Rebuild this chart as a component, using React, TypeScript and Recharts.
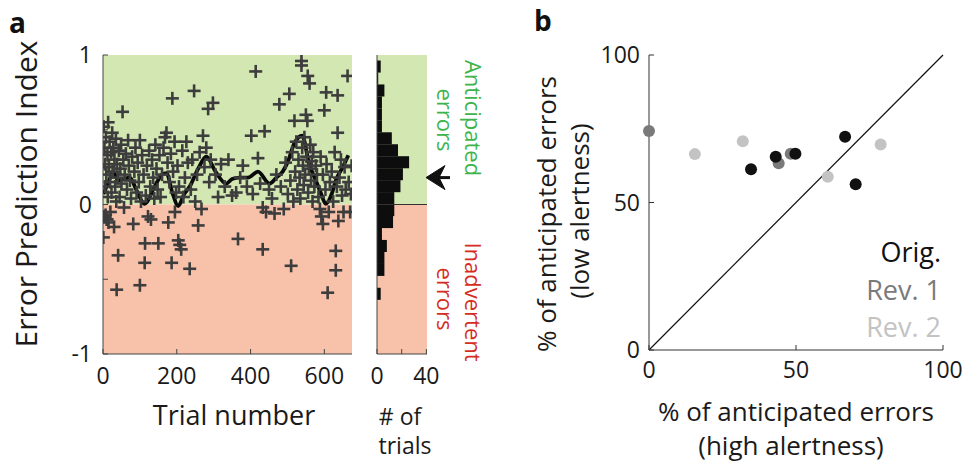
import React from 'react';
import {
  ComposedChart,
  ScatterChart,
  Scatter,
  Line,
  Bar,
  XAxis,
  YAxis,
  ReferenceArea,
  ReferenceLine,
  ReferenceDot,
} from 'recharts';

const FONT = '"Open Sans", "DejaVu Sans", sans-serif';
const GREEN_BG = '#d3e7b3';
const RED_BG = '#f8c2aa';
const GREEN_TXT = '#3cb44b';
const RED_TXT = '#d52d22';
const AXIS = '#444';

// Panel a: error prediction index of each trial, [trial, index]
const trialPoints: [number, number][] = [
  [1, -0.22], [2, 0.52], [3, -0.08], [4, 0.38], [5, 0.27], [6, 0.12], [7, -0.07], [8, 0.45], [9, 0.2], [10, -0.1],
  [11, -0.1], [12, 0.33], [13, 0.05], [14, 0.55], [15, -0.12], [16, 0.25], [18, 0.42], [19, 0.15], [20, -0.05],
  [22, 0.35], [23, 0.08], [25, 0.48], [26, 0.22], [28, 0.38], [30, -0.15], [31, 0.3], [33, 0.12], [35, 0.44],
  [36, 0.02], [37, -0.57], [38, 0.27], [40, 0.18], [41, -0.34], [43, 0.36], [45, 0.05], [47, 0.24], [49, 0.4],
  [50, 0.14], [53, 0.62], [55, 0.3], [57, -0.02], [59, 0.2],
  [62, 0.34], [65, 0.1], [68, 0.43], [70, 0.26], [73, 0.16], [76, 0.04], [79, 0.32], [82, -0.13], [85, 0.22],
  [88, 0.38], [91, 0.08], [94, 0.28], [97, 0.15], [100, 0.43], [100, -0.54], [103, 0.02], [106, 0.33], [110, 0.2],
  [113, -0.39], [114, -0.26], [116, 0.06], [119, 0.26], [122, -0.08], [125, 0.36], [128, 0.12], [130, -0.1],
  [133, 0.3], [136, 0.18], [139, 0.04],
  [142, 0.4], [145, 0.24], [148, 0.1], [150, -0.26], [153, 0.33], [156, 0.05], [160, 0.2], [164, 0.38], [168, 0.45],
  [172, 0.48], [175, 0.28], [177, -0.12], [180, 0.15], [184, 0.34], [186, -0.39], [188, 0.71], [190, 0.22],
  [194, 0.42], [195, -0.05], [198, 0.08], [202, 0.26], [204, -0.24], [206, 0.12], [208, -0.27], [212, -0.3],
  [215, 0.36], [218, 0.05], [222, 0.18], [226, 0.42], [230, 0.28], [235, -0.43], [238, 0.1], [242, 0.3],
  [247, 0.76], [250, 0.02], [255, 0.2], [258, -0.14], [262, 0.35], [267, -0.03], [271, 0.46], [275, 0.25],
  [280, 0.38], [285, 0.64], [288, 0.15], [292, 0.3], [298, 0.68],
  [305, 0.2], [312, 0.05], [320, 0.27], [330, 0.12], [340, 0.3], [350, 0.06], [361, 0.08], [366, -0.23],
  [372, 0.18], [379, 0.26], [390, 0.12], [402, 0.46], [406, 0.07], [414, 0.89], [420, 0.31], [426, 0.14],
  [433, -0.02], [433, -0.3], [438, 0.49], [442, -0.05], [450, 0.1], [458, 0.04], [465, -0.06], [470, 0.2],
  [478, 0.67], [482, 0.12], [490, -0.03], [495, 0.28], [501, 0.07], [505, 0.74], [508, 0.16], [510, -0.41],
  [513, 0.35], [516, 0.02], [519, 0.56], [521, 0.22], [524, 0.42], [527, 0.1], [530, 0.3], [533, 0.18],
  [535, 0.04], [538, 0.96], [538, 0.93], [540, 0.38], [542, 0.26], [544, 0.13], [546, 0.45], [548, 0.2],
  [550, 0.6], [552, 0.32], [554, 0.56], [555, 0.86], [556, 0.08], [558, 0.24], [560, 0.81], [562, 0.4],
  [564, 0.16], [566, 0.29], [568, 0.02], [570, 0.35], [573, 0.12], [577, 0.26], [580, 0.2], [584, 0.05],
  [588, -0.03], [590, 0.32], [592, -0.08], [596, 0.2], [596, -0.13], [600, 0.63], [603, 0.1], [605, 0.75],
  [606, 0.27], [609, -0.59], [612, -0.05], [615, 0.15],
  [620, 0.22], [624, 0.02], [628, 0.35], [631, -0.31], [631, -0.44], [634, 0.12], [636, 0.73], [636, 0.48],
  [638, -0.11], [641, 0.18], [645, 0.3], [648, 0.06], [652, -0.05], [655, 0.25], [658, 0.1], [663, 0.86],
  [666, 0.15], [670, -0.05], [672, 0.07], [674, 0.26],
];

// Panel a: running average of the index, [trial, index]
const smoothTrend: [number, number][] = [
  [1, 0.07], [15, 0.15], [28, 0.22], [41, 0.16], [55, 0.17], [73, 0.18], [90, 0.1], [113, 0.005], [140, 0.12],
  [160, 0.2], [172, 0.21], [188, 0.08], [204, -0.01], [220, 0.07], [235, 0.12], [258, 0.24], [280, 0.32],
  [305, 0.22], [334, 0.14], [350, 0.17], [370, 0.18], [393, 0.18], [420, 0.22], [451, 0.14], [470, 0.18],
  [487, 0.22], [500, 0.28], [519, 0.41], [540, 0.46], [559, 0.27], [577, 0.16], [590, 0.08], [604, 0.005],
  [620, 0.07], [631, 0.16], [650, 0.25], [665, 0.33],
];

// Panel a, side histogram: bin centres (width 0.08) and number of trials
const histCentres = [0.92, 0.84, 0.76, 0.68, 0.6, 0.52, 0.44, 0.36, 0.28, 0.2, 0.12, 0.04,
  -0.04, -0.12, -0.2, -0.28, -0.36, -0.44, -0.52, -0.6];
const histCounts = [3, 1, 6, 4, 4, 4, 12, 17, 26, 21, 19, 14, 14, 13, 4, 8, 6, 6, 0, 3];
const histBinWidth = 0.08;
const meanIndex = 0.18;

// Panel b: % anticipated errors, high alertness (x) vs low alertness (y)
const origX = [34.7, 43.1, 49.8, 66.7, 70.3];
const origY = [61.3, 65.5, 66.5, 72.3, 56.2];
const rev1X = [0, 44.1, 48.2];
const rev1Y = [74.2, 63.3, 66.5];
const rev2X = [15.6, 31.9, 60.8, 78.8];
const rev2Y = [66.4, 70.8, 58.7, 69.7];

const legendItems = [
  { label: 'Orig.', color: '#111111' },
  { label: 'Rev. 1', color: '#7a7a7a' },
  { label: 'Rev. 2', color: '#c3c3c3' },
];

const trialTicks = [0, 200, 400, 600];
const indexTicks = [-1, -0.5, 0, 0.5, 1];
const countTicks = [0, 20, 40];
const pctTicks = [0, 50, 100];

const pointData = trialPoints.map(([t, v]) => ({ t, v }));
const trendData = smoothTrend.map(([t, v]) => ({ t, v }));
const histData = histCentres.map((c, i) => ({ c, n: histCounts[i] }));
const toXY = (xs: number[], ys: number[]) => xs.map((x, i) => ({ x, y: ys[i] }));

const tickStyle = { fill: '#1a1a1a', fontSize: 23, fontFamily: FONT };

const PlusMark = (props: any) => {
  const { cx, cy } = props;
  if (cx == null || cy == null) return null;
  const r = 6.5;
  return (
    <g stroke="#3d3d3d" strokeWidth={2.6}>
      <line x1={cx - r} y1={cy} x2={cx + r} y2={cy} />
      <line x1={cx} y1={cy - r} x2={cx} y2={cy + r} />
    </g>
  );
};

// Histogram bin: grown by a hair top and bottom so neighbouring bins join
const HistBin = (props: any) => {
  const { x, y, width, height } = props;
  if (x == null || y == null || !width || width <= 0) return null;
  const pad = 0.45;
  return <rect x={x} y={y - pad} width={width} height={height + 2 * pad} fill="#0d0d0d" />;
};

const dotShape = (color: string) => (props: any) => {
  const { cx, cy } = props;
  if (cx == null || cy == null) return null;
  return <circle cx={cx} cy={cy} r={6} fill={color} />;
};

const ArrowMark = (props: any) => {
  const { cx, cy } = props;
  if (cx == null || cy == null) return null;
  const x = cx - 1;
  return (
    <g fill="#111" stroke="#111">
      <path d={`M${x},${cy} L${x + 19},${cy - 12} L${x + 13},${cy} L${x + 19},${cy + 12} Z`} strokeWidth={1} />
      <line x1={x + 12} y1={cy} x2={x + 28} y2={cy} strokeWidth={3} />
    </g>
  );
};

export default function App() {
  const plotHeight = 299; // pixel height of panel a plot box
  // just under one bin tall, so the library keeps the requested size
  const barPx = (histBinWidth / 2) * plotHeight - 0.8;

  return (
    <div style={{ position: 'absolute', left: 0, top: 0, width: 970, height: 471, background: '#fff', fontFamily: FONT }}>
      {/* Panel a: index per trial */}
      <div style={{ position: 'absolute', left: 0, top: 0 }}>
        <ComposedChart width={370} height={471} margin={{ top: 55, right: 18, bottom: 77, left: 43 }}>
          <XAxis
            type="number"
            dataKey="t"
            domain={[0, 675]}
            ticks={trialTicks}
            allowDataOverflow
            height={40}
            axisLine={{ stroke: AXIS }}
            tickLine={{ stroke: AXIS }}
            tickSize={-5}
            tickMargin={19}
            tick={tickStyle}
          />
          <YAxis
            type="number"
            domain={[-1, 1]}
            ticks={indexTicks}
            allowDataOverflow
            width={60}
            axisLine={{ stroke: AXIS }}
            tickLine={{ stroke: AXIS }}
            tickSize={-5}
            tickMargin={16}
            tick={tickStyle}
            tickFormatter={(v: number) => (Number.isInteger(v) ? String(v) : '')}
          />
          <ReferenceArea y1={0} y2={1} fill={GREEN_BG} fillOpacity={1} stroke="none" />
          <ReferenceArea y1={-1} y2={0} fill={RED_BG} fillOpacity={1} stroke="none" />
          <Scatter data={pointData} dataKey="v" shape={PlusMark} isAnimationActive={false} />
          <Line
            data={trendData}
            dataKey="v"
            type="monotone"
            stroke="#0a0a0a"
            strokeWidth={3.8}
            dot={false}
            activeDot={false}
            isAnimationActive={false}
          />
        </ComposedChart>
      </div>

      {/* Panel a: distribution of the index */}
      <div style={{ position: 'absolute', left: 340, top: 0 }}>
        <ComposedChart
          layout="vertical"
          width={110}
          height={471}
          data={histData}
          barGap={0}
          margin={{ top: 55, right: 23, bottom: 77, left: 32 }}
        >
          <XAxis
            type="number"
            domain={[0, 40.5]}
            ticks={countTicks}
            allowDataOverflow
            height={40}
            axisLine={{ stroke: AXIS }}
            tickLine={{ stroke: AXIS }}
            tickSize={-5}
            tickMargin={19}
            tick={tickStyle}
            tickFormatter={(v: number) => (v === 20 ? '' : String(v))}
          />
          <YAxis
            type="number"
            dataKey="c"
            domain={[-1, 1]}
            ticks={[-1, 1]}
            reversed
            allowDataOverflow
            width={5}
            axisLine={{ stroke: AXIS }}
            tickLine={false}
            tick={false}
          />
          <ReferenceArea y1={0} y2={1} fill={GREEN_BG} fillOpacity={1} stroke="none" />
          <ReferenceArea y1={-1} y2={0} fill={RED_BG} fillOpacity={1} stroke="none" />
          <Bar dataKey="n" fill="#0d0d0d" barSize={barPx} shape={HistBin} isAnimationActive={false} />
          <ReferenceLine y={0} stroke="#333" strokeWidth={1} />
          <ReferenceDot x={40.5} y={meanIndex} ifOverflow="visible" shape={ArrowMark} />
        </ComposedChart>
      </div>

      {/* Panel b: low vs high alertness */}
      <div style={{ position: 'absolute', left: 520, top: 0 }}>
        <ScatterChart width={450} height={471} margin={{ top: 55, right: 27, bottom: 81, left: 69 }}>
          <XAxis
            type="number"
            dataKey="x"
            domain={[0, 100]}
            ticks={pctTicks}
            height={40}
            axisLine={{ stroke: '#333' }}
            tickLine={{ stroke: '#333' }}
            tickSize={-5}
            tickMargin={17}
            tick={tickStyle}
          />
          <YAxis
            type="number"
            dataKey="y"
            domain={[0, 100]}
            ticks={pctTicks}
            width={60}
            axisLine={{ stroke: '#333' }}
            tickLine={{ stroke: '#333' }}
            tickSize={-5}
            tickMargin={14}
            tick={tickStyle}
          />
          <ReferenceLine
            segment={[{ x: 0, y: 0 }, { x: 100, y: 100 }]}
            stroke="#111"
            strokeWidth={1.2}
          />
          <Scatter data={toXY(rev2X, rev2Y)} shape={dotShape(legendItems[2].color)} isAnimationActive={false} />
          <Scatter data={toXY(rev1X, rev1Y)} shape={dotShape(legendItems[1].color)} isAnimationActive={false} />
          <Scatter data={toXY(origX, origY)} shape={dotShape(legendItems[0].color)} isAnimationActive={false} />
        </ScatterChart>
      </div>

      {/* Titles, panel letters and annotations */}
      <svg
        width={970}
        height={471}
        style={{ position: 'absolute', left: 0, top: 0, pointerEvents: 'none' }}
        fontFamily={FONT}
      >
        <text x={9} y={33} fontSize={28} fontWeight={700} fill="#111">a</text>
        <text x={534} y={31} fontSize={28} fontWeight={700} fill="#111">b</text>

        <text x={37} y={194} fontSize={30} fill="#1a1a1a" textAnchor="middle" transform="rotate(-90 37 194)">
          Error Prediction Index
        </text>
        <text x={234} y={425} fontSize={27} fill="#1a1a1a" textAnchor="middle">Trial number</text>
        <text x={402} y={425} fontSize={23} fill="#1a1a1a" textAnchor="middle">
          <tspan x={400}># of</tspan>
          <tspan x={405} dy={29}>trials</tspan>
        </text>

        <text x={465} y={118} fontSize={22} fill={GREEN_TXT} textAnchor="middle" transform="rotate(90 465 118)">
          Anticipated
        </text>
        <text x={437} y={120} fontSize={22} fill={GREEN_TXT} textAnchor="middle" transform="rotate(90 437 120)">
          errors
        </text>
        <text x={465} y={302} fontSize={22} fill={RED_TXT} textAnchor="middle" transform="rotate(90 465 302)">
          Inadvertent
        </text>
        <text x={437} y={299} fontSize={22} fill={RED_TXT} textAnchor="middle" transform="rotate(90 437 299)">
          errors
        </text>

        <text x={796} y={421} fontSize={26} fill="#1a1a1a" textAnchor="middle">% of anticipated errors</text>
        <text x={791} y={455} fontSize={26} fill="#1a1a1a" textAnchor="middle">(high alertness)</text>
        <text x={556} y={214} fontSize={26} fill="#1a1a1a" textAnchor="middle" transform="rotate(-90 556 214)">
          % of anticipated errors
        </text>
        <text x={589} y={211} fontSize={26} fill="#1a1a1a" textAnchor="middle" transform="rotate(-90 589 211)">
          (low alertness)
        </text>

        {legendItems.map((item, i) => (
          <text key={item.label} x={941} y={262 + i * 37.5} fontSize={27} fill={item.color} textAnchor="end">
            {item.label}
          </text>
        ))}
      </svg>
    </div>
  );
}
